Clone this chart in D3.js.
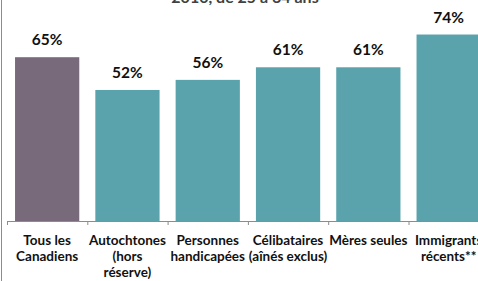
<!DOCTYPE html>
<html>
<head>
<meta charset="utf-8">
<script src="https://cdn.jsdelivr.net/npm/d3@7.9.0/dist/d3.min.js"></script>
<style>
  html, body { margin: 0; padding: 0; background: #fff; overflow: hidden; }
  svg { display: block; font-family: Lato, "Open Sans", sans-serif; }
</style>
</head>
<body>
<div id="chart"></div>
<script>
// data
const categories = [
  ['Tous les', 'Canadiens'],
  ['Autochtones', '(hors', 'réserve)'],
  ['Personnes', 'handicapées'],
  ['Célibataires', '(aînés exclus)'],
  ['Mères seules'],
  ['Immigrants', 'récents**']
];
const values = [65, 52, 56, 61, 61, 74];
const barColors = ['#786a7a', '#5aa3ad', '#5aa3ad', '#5aa3ad', '#5aa3ad', '#5aa3ad'];
const titleText = '2010, de 25 à 64 ans';

const fullWidth = 478, fullHeight = 281;
const baseY = 221;

const svg = d3.select('#chart')
  .append('svg')
    .attr('width', fullWidth)
    .attr('height', fullHeight);

// frame edge on the left
svg.append('line')
  .attr('x1', 1.5).attr('x2', 1.5)
  .attr('y1', 0).attr('y2', fullHeight)
  .attr('stroke', '#8c8c8c').attr('stroke-width', 1);

// title, cut off by the top edge as in the source
svg.append('text')
  .attr('x', 245).attr('y', 3)
  .attr('text-anchor', 'middle')
  .attr('font-size', 16).attr('font-weight', 'bold')
  .attr('fill', '#404040')
  .text(titleText);

const idx = d3.range(values.length);
const step = 80.3;
const xScale = d3.scaleBand()
  .domain(idx)
  .range([7, 7 + step * values.length])
  .paddingInner(0.2)
  .paddingOuter(0.1);

const yScale = d3.scaleLinear()
  .domain([0, 100])
  .range([baseY, baseY - 252]);

// bars
svg.selectAll('rect.bar')
  .data(idx)
  .join('rect')
    .attr('class', 'bar')
    .attr('x', i => xScale(i))
    .attr('y', i => yScale(values[i]))
    .attr('width', xScale.bandwidth())
    .attr('height', i => yScale(0) - yScale(values[i]))
    .attr('fill', i => barColors[i]);

// value labels
svg.selectAll('text.val')
  .data(idx)
  .join('text')
    .attr('class', 'val')
    .attr('x', i => xScale(i) + xScale.bandwidth() / 2)
    .attr('y', i => yScale(values[i]) - 12)
    .attr('text-anchor', 'middle')
    .attr('font-size', 15.5).attr('font-weight', 'bold')
    .attr('fill', '#111')
    .text(i => values[i] + '%');

// x axis with ticks between categories
const axis = svg.append('g');
axis.append('line')
  .attr('x1', 7).attr('x2', fullWidth)
  .attr('y1', baseY + 0.5).attr('y2', baseY + 0.5)
  .attr('stroke', '#8c8c8c');
axis.selectAll('line.tick')
  .data(idx)
  .join('line')
    .attr('class', 'tick')
    .attr('x1', i => 7.5 + i * step).attr('x2', i => 7.5 + i * step)
    .attr('y1', baseY).attr('y2', baseY + 4)
    .attr('stroke', '#8c8c8c');

// category labels
const lab = svg.selectAll('text.cat')
  .data(idx)
  .join('text')
    .attr('class', 'cat')
    .attr('x', i => xScale(i) + xScale.bandwidth() / 2)
    .attr('y', 245)
    .attr('text-anchor', 'middle')
    .attr('font-size', 13.5).attr('font-weight', 'bold')
    .attr('fill', '#111');
lab.selectAll('tspan')
  .data(i => categories[i])
  .join('tspan')
    .attr('x', function () { return d3.select(this.parentNode).attr('x'); })
    .attr('dy', (d, j) => j === 0 ? 0 : 16)
    .text(d => d);
</script>
</body>
</html>
